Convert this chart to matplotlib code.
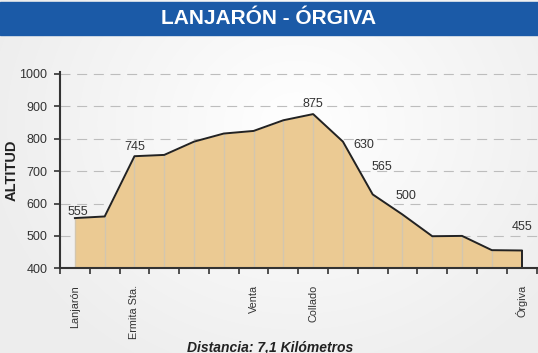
import numpy as np
import matplotlib
matplotlib.use('Agg')
import matplotlib.pyplot as plt

plt.rcParams['font.family'] = ['Liberation Sans', 'DejaVu Sans']

# profile data
altitudes = [555, 560, 746, 750, 791, 816, 824, 857, 876, 791, 628, 566, 499, 500, 456, 455]
places = {0: 'Lanjarón', 2: 'Ermita Sta.', 6: 'Venta', 8: 'Collado', 15: 'Órgiva'}
label_texts = ['555', '745', '875', '630', '565', '500', '455']
label_x = [0.1, 2.0, 8.0, 9.7, 10.3, 11.1, 15.0]
label_y = [575, 775, 908, 782, 712, 622, 527]
yticks = [400, 500, 600, 700, 800, 900, 1000]

title = 'LANJARÓN - ÓRGIVA'
ylabel = 'ALTITUD'
xlabel = 'Distancia: 7,1 Kilómetros'

x = np.arange(len(altitudes)) + 0.5

fig = plt.figure(figsize=(5.38, 3.53), dpi=100)

# soft gray background, lighter in the middle
h, w = 353, 538
yy, xx = np.mgrid[0:h, 0:w]
d = np.sqrt(((xx - w * 0.55) / (w * 0.6)) ** 2 + ((yy - h * 0.35) / (h * 0.8)) ** 2)
shade = 1.0 - 0.07 * np.clip(d, 0, 1)
bg = np.dstack([shade, shade, shade])
fig.figimage(bg, 0, 0, zorder=-10)

# title bar
fig.patches.append(plt.Rectangle((0, 1 - 35 / 353), 1, 33 / 353, transform=fig.transFigure,
                                 color='#1b5aa7', zorder=1))
fig.text(0.5, 1 - 19 / 353, title, color='white', fontsize=15, fontweight='bold',
         ha='center', va='center')

ax = fig.add_axes([60 / 538, (353 - 268.3) / 353, 1 - 60 / 538, 196 / 353])
ax.patch.set_alpha(0)

ax.fill_between(x, altitudes, 400, color='#ebca93', lw=0, zorder=2)
ax.vlines(x[:-1], 400, altitudes[:-1], color='#d3c6ae', lw=1, zorder=3)
ax.vlines(x[-1], 400, altitudes[-1], color='#222222', lw=1.4, zorder=4)
ax.plot(x, altitudes, color='#222222', lw=1.4, zorder=4)

for t, lx, ly in zip(label_texts, label_x, label_y):
    ax.text(lx + 0.5, ly, t, fontsize=9, color='#333333', ha='center', va='center', zorder=5)

ax.set_xlim(0, 16.05)
ax.set_ylim(400, 1005)
ax.set_yticks(yticks)
ax.tick_params(axis='y', labelsize=9, labelcolor='#333333', length=4, width=1.2,
               color='#333333', pad=5)
for v in yticks[1:]:
    ax.axhline(v, color='#bdbdbd', lw=0.8, dashes=(9, 6), zorder=1)

ax.set_xticks([x[i] for i in places])
ax.set_xticklabels(list(places.values()), rotation=90, va='top', fontsize=7.8, color='#333333')
ax.tick_params(axis='x', length=0, pad=12)
ax.set_xticks(np.arange(0, 17), minor=True)
ax.tick_params(axis='x', which='minor', length=4, width=1.2, color='#333333')

for s in ['top', 'right']:
    ax.spines[s].set_visible(False)
for s in ['left', 'bottom']:
    ax.spines[s].set_color('#333333')
    ax.spines[s].set_linewidth(1.5)
    ax.spines[s].set_zorder(6)

fig.text(12 / 538, 1 - 170 / 353, ylabel, rotation=90, fontsize=10.5, fontweight='bold',
         color='#222222', ha='center', va='center')
fig.text(270 / 538, 1 - 347 / 353, xlabel, fontsize=10, fontweight='bold', style='italic',
         color='#222222', ha='center', va='center')

fig.savefig('out.png', dpi=100)
